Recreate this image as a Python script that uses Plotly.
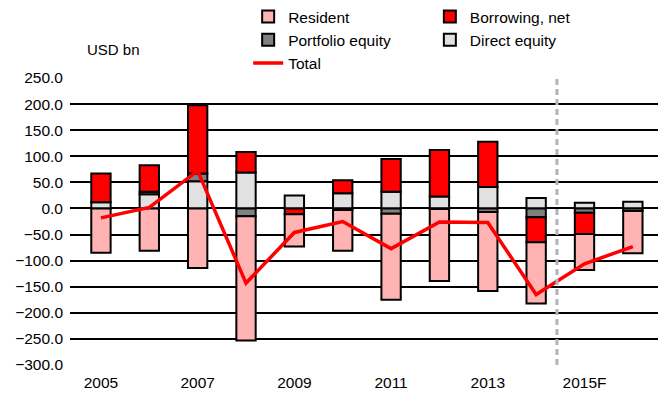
import plotly.graph_objects as go

years = [2005, 2006, 2007, 2008, 2009, 2010, 2011, 2012, 2013, 2014, 2015, 2016]
tick_years = [2005, 2007, 2009, 2011, 2013, 2015]
tick_labels = ["2005", "2007", "2009", "2011", "2013", "2015F"]

direct_equity = [12, 27, 52, 69, 25, 29, 32, 23, 41, 20, 11, 13]
portfolio_equity = [None, 5, 15, -15, None, -3, -10, -1, -7, -17, -8, -5]
borrowing_net = [55, 51, 131, 39, -11, 25, 63, 89, 87, -48, -41, None]
resident = [-85, -81, -114, -238, -62, -78, -165, -138, -151, -117, -69, -81]
total = [-18, 2, 72, -143, -46, -25, -77, -26, -27, -165, -106, -73]

forecast_split = 2014.43
FONT = "Liberation Sans, Arial, sans-serif"

fig = go.Figure()

def add_bar(name, values, color, legend, rank):
    fig.add_trace(go.Bar(
        x=years, y=values, name=name,
        marker=dict(color=color, line=dict(color="black", width=2)),
        legend=legend, legendrank=rank, legendgroup=name,
    ))

# stacking order: positives build up from direct equity, negatives down from portfolio
add_bar("Direct equity", direct_equity, "#E1E1E1", "legend2", 2)
add_bar("Portfolio equity", portfolio_equity, "#808080", "legend", 2)
add_bar("Borrowing, net", borrowing_net, "#FF0000", "legend2", 1)
add_bar("Resident", resident, "#FFB3B3", "legend", 1)

fig.add_trace(go.Scatter(
    x=years, y=total, name="Total", mode="lines",
    line=dict(color="#FF0000", width=3.5),
    legend="legend", legendrank=3, legendgroup="Total",
))

fig.add_shape(type="line", xref="x", yref="paper",
              x0=forecast_split, x1=forecast_split, y0=0, y1=1,
              line=dict(color="#B4B4B4", width=3, dash="6px,4px"))

fig.add_annotation(text="USD bn", xref="paper", yref="paper",
                   x=0.025, y=1.098, xanchor="left", yanchor="middle",
                   showarrow=False, font=dict(size=15, color="black", family=FONT))

legend_style = dict(
    orientation="v", xanchor="left", yanchor="top", yref="container",
    font=dict(size=15.5, color="black", family=FONT),
    bgcolor="rgba(0,0,0,0)", tracegroupgap=0, itemwidth=30,
)

fig.update_layout(
    width=665, height=396,
    margin=dict(l=70, r=7, t=78, b=31, autoexpand=False),
    paper_bgcolor="white", plot_bgcolor="white",
    barmode="relative", bargap=0.6,
    font=dict(family=FONT, size=15.5, color="black"),
    legend=dict(x=0.303, y=1.0, **legend_style),
    legend2=dict(x=0.612, y=1.0, **legend_style),
    xaxis=dict(
        range=[2004.36, 2016.52], tickmode="array",
        tickvals=tick_years, ticktext=tick_labels,
        showgrid=False, zeroline=False, showline=False, ticks="",
        ticklabelstandoff=6,
    ),
    yaxis=dict(
        range=[-300, 250], tickmode="array",
        tickvals=list(range(-300, 251, 50)), tickformat=".1f",
        showgrid=True, gridcolor="black", gridwidth=2,
        zeroline=True, zerolinecolor="black", zerolinewidth=2,
        showline=False, ticks="", ticklabelstandoff=6,
    ),
)

fig.write_html("out.html")
